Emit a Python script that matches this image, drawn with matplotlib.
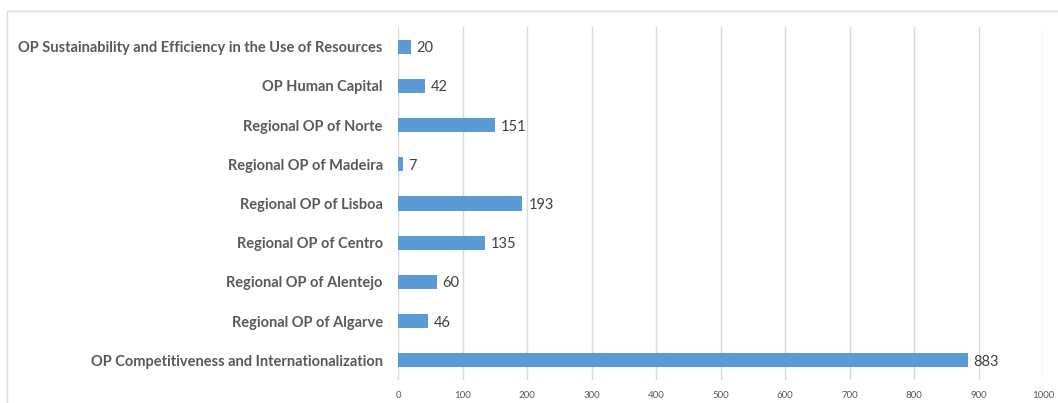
import matplotlib
matplotlib.use("Agg")
import matplotlib.pyplot as plt
from matplotlib.patches import Rectangle

categories = [
    "OP Competitiveness and Internationalization",
    "Regional OP of Algarve",
    "Regional OP of Alentejo",
    "Regional OP of Centro",
    "Regional OP of Lisboa",
    "Regional OP of Madeira",
    "Regional OP of Norte",
    "OP Human Capital",
    "OP Sustainability and Efficiency in the Use of Resources",
]
values = [883, 46, 60, 135, 193, 7, 151, 42, 20]
xticks = [0, 100, 200, 300, 400, 500, 600, 700, 800, 900, 1000]

plt.rcParams['font.family'] = ['Lato', 'DejaVu Sans']

fig = plt.figure(figsize=(10.58, 4.03), dpi=100)
fig.patches.append(Rectangle((7/1058, -0.1), 1.2, 1 - 11/403 + 0.1, transform=fig.transFigure,
                             fill=False, edgecolor='#d9d9d9', linewidth=1.0))
ax = fig.add_axes([398/1058, 23/403, (1043-398)/1058, (380-27)/403])

y = list(range(len(categories)))
ax.barh(y, values, height=0.36, color='#5b9bd5', zorder=3)
for yi, v in zip(y, values):
    ax.text(v + 9, yi, str(v), va='center_baseline', ha='left', fontsize=10.5, color='#404040')

ax.set_xlim(0, 1000)
ax.set_ylim(-0.5, len(categories) - 0.5)
ax.set_xticks(xticks)
ax.set_xticklabels([str(t) for t in xticks], fontsize=7, color='#595959')
ax.set_yticks(y)
ax.set_yticklabels(categories, fontsize=10.5, fontweight='bold', color='#595959')
ax.tick_params(axis='both', length=0)
ax.tick_params(axis='y', pad=11)
ax.tick_params(axis='x', pad=8)
ax.grid(axis='x', color='#d9d9d9', linewidth=1.0, zorder=0)
for s in ax.spines.values():
    s.set_visible(False)

fig.savefig("out.png", dpi=100)
